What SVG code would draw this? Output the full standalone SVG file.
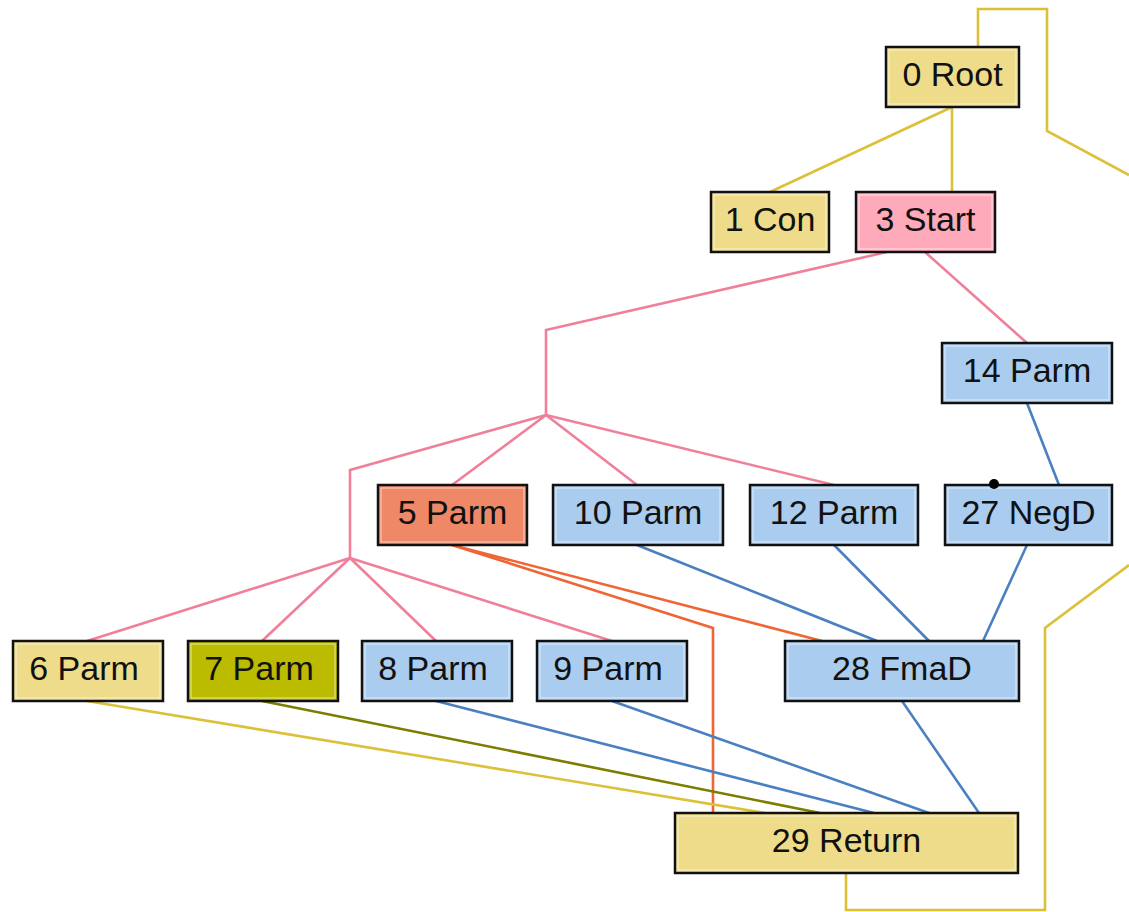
<svg xmlns="http://www.w3.org/2000/svg" width="1129" height="912" viewBox="0 0 1129 912">
  <style>
    .box { stroke: #111; stroke-width: 2.5; }
    .inner { fill: none; stroke: #ffffff; stroke-opacity: 0.65; stroke-width: 1; }
    .lbl { font-family: "Liberation Sans", Arial, sans-serif; font-size: 34px; fill: #111; text-anchor: middle; }
    .yel { fill: #eedc8a; }
    .pnk { fill: #ffaabb; }
    .blu { fill: #aaccee; }
    .org { fill: #ee8866; }
    .olv { fill: #bbbb00; }
    .e { fill: none; stroke-width: 2.6; stroke-linejoin: miter; }
    .ey { stroke: #dcc038; }
    .ep { stroke: #f0809a; }
    .eb { stroke: #4a80c0; }
    .eo { stroke: #ee6633; }
    .eol { stroke: #7d7d00; }
  </style>
  <rect width="1129" height="912" fill="#ffffff"/>

  <g id="edges">
    <!-- control edges from Root -->
    <polyline class="e ey" points="952,107 770,192"/>
    <polyline class="e ey" points="952,107 952,192"/>
    <polyline class="e ey" points="978,47 978,9 1047,9 1047,131 1129,175"/>
    <polyline class="e ey" points="846,873 846,910 1045,910 1045,628 1129,565"/>
    <!-- Start to parameters -->
    <polyline class="e ep" points="887,252 546,330 546,415"/>
    <polyline class="e ep" points="546,415 452,485"/>
    <polyline class="e ep" points="546,415 637,485"/>
    <polyline class="e ep" points="546,415 834,485"/>
    <polyline class="e ep" points="546,415 350,470 350,558"/>
    <polyline class="e ep" points="350,558 87,641"/>
    <polyline class="e ep" points="350,558 262,641"/>
    <polyline class="e ep" points="350,558 436,641"/>
    <polyline class="e ep" points="350,558 612,641"/>
    <polyline class="e ep" points="925,252 1027,343"/>
    <!-- data edges -->
    <polyline class="e eb" points="1027,403 1059,485"/>
    <polyline class="e eo" points="452,545 713,628 713,813"/>
    <polyline class="e eo" points="452,545 822,641"/>
    <polyline class="e eb" points="637,545 877,641"/>
    <polyline class="e eb" points="834,545 929,641"/>
    <polyline class="e eb" points="1027,545 983,641"/>
    <polyline class="e ey" points="87,701 765,813"/>
    <polyline class="e eol" points="262,701 820,813"/>
    <polyline class="e eb" points="436,701 874,813"/>
    <polyline class="e eb" points="612,701 929,813"/>
    <polyline class="e eb" points="902,701 979,813"/>
  </g>

  <g id="n0"><rect class="box yel" x="886" y="47" width="133" height="60"/><rect class="inner" x="889" y="50" width="127" height="54"/><text class="lbl" x="952.5" y="86">0 Root</text></g>
  <g id="n1"><rect class="box yel" x="711" y="192" width="118" height="60"/><rect class="inner" x="714" y="195" width="112" height="54"/><text class="lbl" x="770" y="231">1 Con</text></g>
  <g id="n3"><rect class="box pnk" x="856" y="192" width="139" height="60"/><rect class="inner" x="859" y="195" width="133" height="54"/><text class="lbl" x="925.5" y="231">3 Start</text></g>
  <g id="n14"><rect class="box blu" x="942" y="343" width="170" height="60"/><rect class="inner" x="945" y="346" width="164" height="54"/><text class="lbl" x="1027" y="382">14 Parm</text></g>
  <g id="n5"><rect class="box org" x="378" y="485" width="149" height="60"/><rect class="inner" x="381" y="488" width="143" height="54"/><text class="lbl" x="452.5" y="524">5 Parm</text></g>
  <g id="n10"><rect class="box blu" x="553" y="485" width="170" height="60"/><rect class="inner" x="556" y="488" width="164" height="54"/><text class="lbl" x="638" y="524">10 Parm</text></g>
  <g id="n12"><rect class="box blu" x="750" y="485" width="168" height="60"/><rect class="inner" x="753" y="488" width="162" height="54"/><text class="lbl" x="834" y="524">12 Parm</text></g>
  <g id="n27"><rect class="box blu" x="945" y="485" width="167" height="60"/><rect class="inner" x="948" y="488" width="161" height="54"/><text class="lbl" x="1028.5" y="524">27 NegD</text><circle cx="994" cy="484" r="5" fill="#000"/></g>
  <g id="n6"><rect class="box yel" x="13" y="641" width="150" height="60"/><rect class="inner" x="16" y="644" width="144" height="54"/><text class="lbl" x="84" y="680">6 Parm</text></g>
  <g id="n7"><rect class="box olv" x="188" y="641" width="150" height="60"/><rect class="inner" x="191" y="644" width="144" height="54"/><text class="lbl" x="259" y="680">7 Parm</text></g>
  <g id="n8"><rect class="box blu" x="362" y="641" width="150" height="60"/><rect class="inner" x="365" y="644" width="144" height="54"/><text class="lbl" x="433" y="680">8 Parm</text></g>
  <g id="n9"><rect class="box blu" x="537" y="641" width="150" height="60"/><rect class="inner" x="540" y="644" width="144" height="54"/><text class="lbl" x="608" y="680">9 Parm</text></g>
  <g id="n28"><rect class="box blu" x="785" y="641" width="234" height="60"/><rect class="inner" x="788" y="644" width="228" height="54"/><text class="lbl" x="902" y="680">28 FmaD</text></g>
  <g id="n29"><rect class="box yel" x="675" y="813" width="343" height="60"/><rect class="inner" x="678" y="816" width="337" height="54"/><text class="lbl" x="846.5" y="852">29 Return</text></g>
</svg>
